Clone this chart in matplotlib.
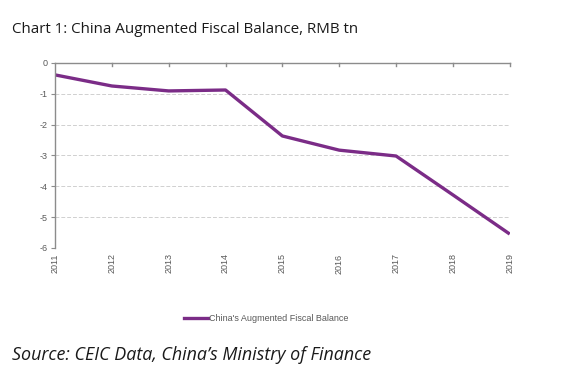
import matplotlib
matplotlib.use("Agg")
import matplotlib.pyplot as plt
from matplotlib.lines import Line2D

years = ["2011", "2012", "2013", "2014", "2015", "2016", "2017", "2018", "2019"]
balance = [-0.39, -0.75, -0.91, -0.88, -2.37, -2.83, -3.02, -4.28, -5.55]
yticks = [0, -1, -2, -3, -4, -5, -6]

purple = "#7B2C87"
grey = "#8C8C8C"
label_col = "#595959"

fig = plt.figure(figsize=(5.67, 3.88), dpi=100)
ax = fig.add_axes([0.097, 0.361, 0.802, 0.477])

x = list(range(len(years)))
ax.plot(x, balance, color=purple, lw=2.4, solid_capstyle="butt")

ax.set_xlim(0, len(years) - 1)
ax.set_ylim(-6, 0)
ax.set_yticks(yticks)
ax.set_yticklabels([str(v) for v in yticks], fontsize=6.5, color=label_col,
                   family="Liberation Sans")
ax.set_xticks(x)
ax.set_xticklabels(years, rotation=90, fontsize=6.5, color=label_col,
                   family="Liberation Sans")

ax.grid(axis="y", color="#D0D0D0", ls=(0, (4, 2)), lw=0.7)
for s in ["right", "bottom"]:
    ax.spines[s].set_visible(False)
for s in ["left", "top"]:
    ax.spines[s].set_color(grey)
    ax.spines[s].set_linewidth(1.0)

ax.tick_params(axis="y", length=3, color=grey, pad=2)
ax.tick_params(axis="x", length=0, pad=4)
# small tick marks hanging below the zero line
for xi in x[1:]:
    ax.plot([xi, xi], [0, -0.1], color=grey, lw=1.0, clip_on=False)

handle = Line2D([0], [0], color=purple, lw=2.4)
fig.legend([handle], ["China's Augmented Fiscal Balance"], loc="center",
           bbox_to_anchor=(0.47, 0.178), frameon=False, handlelength=2.6,
           handletextpad=0.2, prop={"family": "Liberation Sans", "size": 6.5},
           labelcolor=label_col)

fig.text(0.021, 0.925, "Chart 1: China Augmented Fiscal Balance, RMB tn",
         fontsize=10.9, family="Open Sans", color="#1a1a1a", va="center")
fig.text(0.021, 0.085, "Source: CEIC Data, China\u2019s Ministry of Finance",
         fontsize=12.9, family="Open Sans", style="italic", color="#1a1a1a",
         va="center")

fig.savefig("out.png", dpi=100)
